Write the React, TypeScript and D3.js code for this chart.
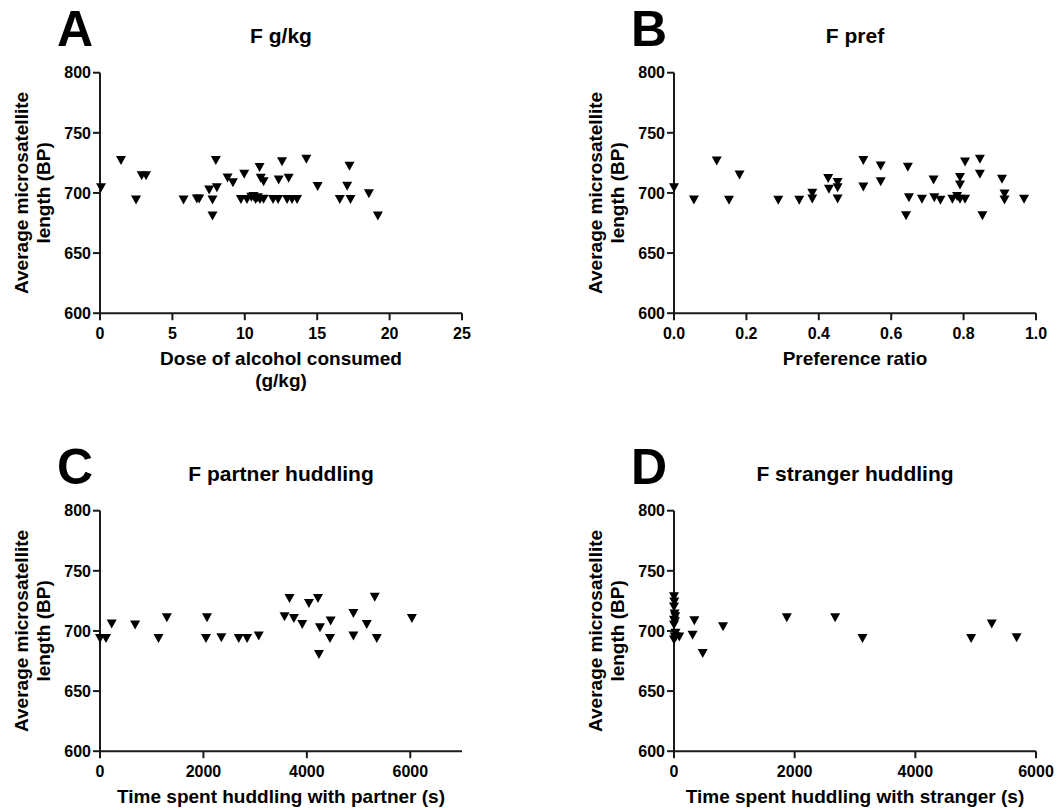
import React from 'react';
import * as d3 from 'd3';

// ---------- data ----------
const yTicks = [600, 650, 700, 750, 800];

const doseTicks = [0, 5, 10, 15, 20, 25];
const doseX = [0.07, 1.45, 2.49, 2.88, 3.18, 5.77, 6.69, 6.85, 7.54, 7.77, 7.77, 8.0, 8.07, 8.81, 9.18, 9.96, 9.73, 10.15, 10.45, 10.6, 10.75, 10.9, 11.05, 11.02, 11.1, 11.3, 11.3, 11.95, 12.3, 12.34, 12.57, 13.03, 12.92, 13.26, 13.61, 14.25, 15.03, 16.56, 17.23, 17.07, 17.3, 18.57, 19.19];
const doseLen = [704.4, 726.9, 694.2, 714.4, 714.4, 694.2, 695, 695, 702.5, 694.2, 680.9, 726.9, 704.4, 712.5, 708.5, 715.5, 694.5, 694.5, 696.5, 697, 694.5, 696, 694.5, 721.2, 712.3, 709.4, 694.8, 694.5, 694.5, 710.8, 726, 712.3, 694.5, 694.5, 694.5, 728, 705.3, 694.5, 722.3, 705.6, 694.5, 699.4, 680.9];

const prefTicks = [0, 0.2, 0.4, 0.6, 0.8, 1.0];
const prefX = [0.0, 0.055, 0.118, 0.152, 0.181, 0.288, 0.346, 0.382, 0.382, 0.426, 0.428, 0.452, 0.452, 0.452, 0.523, 0.523, 0.571, 0.571, 0.646, 0.641, 0.649, 0.685, 0.717, 0.719, 0.736, 0.769, 0.782, 0.79, 0.79, 0.79, 0.804, 0.804, 0.845, 0.845, 0.852, 0.906, 0.913, 0.913, 0.967];
const prefLen = [704.4, 694.2, 726.6, 694, 715, 694, 694, 699.7, 695, 712, 703, 708.6, 704.4, 695, 727, 705, 722.4, 709.4, 721.3, 681, 696, 694.8, 710.8, 696, 694, 694.8, 697, 712.8, 706.6, 694.8, 725.8, 694.8, 728, 715.5, 681, 711.4, 699.2, 694.2, 694.8];

const partnerTicks = [0, 2000, 4000, 6000];
const partnerX = [0, 116, 226, 679, 1131, 1293, 2069, 2049, 2347, 2683, 2845, 3070, 3568, 3665, 3749, 3911, 4040, 4215, 4253, 4234, 4460, 4447, 4900, 4900, 5158, 5313, 5352, 6031];
const partnerLen = [693.8, 693.8, 705.7, 704.9, 693.8, 711, 711, 693.8, 694.3, 693.8, 693.8, 695.7, 711.8, 727, 710.4, 705.4, 722.9, 727, 702.6, 680.4, 708.2, 693.8, 714.6, 695.7, 705.4, 728, 693.8, 710.4];

const strangerTicks = [0, 2000, 4000, 6000];
const strangerX = [0, 5, 0, 10, 20, 0, 15, 0, 25, 10, 30, 0, 87, 337, 308, 476, 813, 1870, 2671, 3124, 4925, 5267, 5679];
const strangerLen = [728.4, 724, 720, 714, 711.8, 709, 707.6, 705, 698, 695, 695, 692.4, 695, 708.5, 696.5, 681.3, 703.5, 711, 711, 693.8, 693.8, 705.7, 694.3];

// ---------- drawing ----------
const FONT = '"Liberation Sans", Arial, Helvetica, sans-serif';

type PanelProps = {
  left: number;
  top: number;
  letter: string;
  title: string;
  xDomain: [number, number];
  xTicks: number[];
  fmt: (v: number) => string;
  xs: number[];
  ys: number[];
  xTitle: string[];
};

function Panel({ left, top, letter, title, xDomain, xTicks, fmt, xs, ys, xTitle }: PanelProps) {
  const width = 362;
  const height = 240.5;
  const bottom = top + height;
  const x = d3.scaleLinear().domain(xDomain).range([left, left + width]);
  const y = d3.scaleLinear().domain([600, 800]).range([bottom, top]);
  const tri = 'M-5,-4.5L5,-4.5L0,4.5Z';
  const axisColor = '#1a1a1a';
  return (
    <g fontFamily={FONT} fontWeight="bold" fill="#000">
      <text x={left - 43} y={top - 27} fontSize={50}>{letter}</text>
      <text x={left + width / 2} y={top - 30} fontSize={21} textAnchor="middle">{title}</text>
      {/* y axis */}
      <line x1={left} x2={left} y1={top} y2={bottom} stroke={axisColor} strokeWidth={2} />
      {yTicks.map((t) => (
        <g key={'y' + t}>
          <line x1={left - 7} x2={left} y1={y(t)} y2={y(t)} stroke={axisColor} strokeWidth={2} />
          <text x={left - 9} y={y(t) + 5.7} fontSize={16} textAnchor="end">{t}</text>
        </g>
      ))}
      {/* x axis */}
      <line x1={left} x2={left + width} y1={bottom} y2={bottom} stroke={axisColor} strokeWidth={2} />
      {xTicks.map((t) => (
        <g key={'x' + t}>
          <line x1={x(t)} x2={x(t)} y1={bottom} y2={bottom + 7} stroke={axisColor} strokeWidth={2} />
          <text x={x(t)} y={bottom + 26} fontSize={16} textAnchor="middle">{fmt(t)}</text>
        </g>
      ))}
      {/* axis titles */}
      <text transform={`translate(${left - 72},${top + height / 2}) rotate(-90)`} fontSize={19} textAnchor="middle">Average microsatellite</text>
      <text transform={`translate(${left - 50},${top + height / 2}) rotate(-90)`} fontSize={19} textAnchor="middle">length (BP)</text>
      {xTitle.map((line, i) => (
        <text key={line} x={left + width / 2} y={bottom + 52 + i * 22} fontSize={19} textAnchor="middle">{line}</text>
      ))}
      {/* points */}
      {xs.map((v, i) => (
        <path key={i} d={tri} transform={`translate(${x(v)},${y(ys[i])})`} fill="#000" />
      ))}
    </g>
  );
}

export default function App() {
  const f0 = (v: number) => d3.format('d')(v);
  const f1 = (v: number) => d3.format('.1f')(v);
  return (
    <svg width={1058} height={810} style={{ position: 'absolute', left: 0, top: 0, background: '#fff' }}>
      <rect x={0} y={0} width={1058} height={810} fill="#fff" />
      <Panel left={100} top={72.7} letter="A" title="F g/kg" xDomain={[0, 25]} xTicks={doseTicks} fmt={f0}
        xs={doseX} ys={doseLen} xTitle={['Dose of alcohol consumed', '(g/kg)']} />
      <Panel left={674} top={72.7} letter="B" title="F pref" xDomain={[0, 1]} xTicks={prefTicks} fmt={f1}
        xs={prefX} ys={prefLen} xTitle={['Preference ratio']} />
      <Panel left={100} top={510.7} letter="C" title="F partner huddling" xDomain={[0, 7000]} xTicks={partnerTicks} fmt={f0}
        xs={partnerX} ys={partnerLen} xTitle={['Time spent huddling with partner (s)']} />
      <Panel left={674} top={510.7} letter="D" title="F stranger huddling" xDomain={[0, 6000]} xTicks={strangerTicks} fmt={f0}
        xs={strangerX} ys={strangerLen} xTitle={['Time spent huddling with stranger (s)']} />
    </svg>
  );
}
